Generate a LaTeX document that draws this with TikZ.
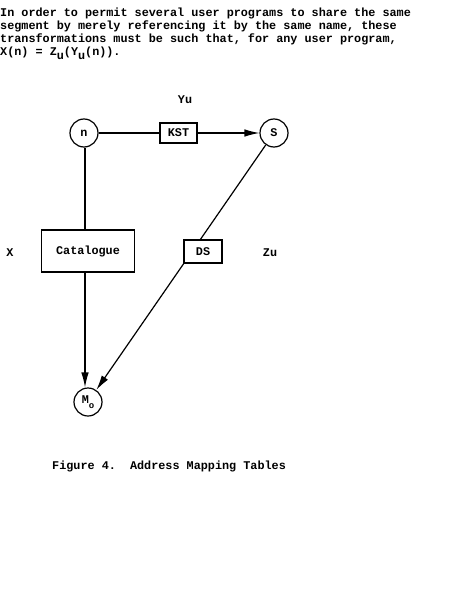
\documentclass[tikz,border=0pt]{standalone}
\usepackage{fontspec}
\setmainfont{Liberation Mono}
\usetikzlibrary{arrows.meta}
\begin{document}
\begin{tikzpicture}[x=1pt,y=-1pt,
  txt/.style={inner sep=0pt,font=\fontsize{11.8pt}{13pt}\selectfont\bfseries},
  para/.style={txt,anchor=base west},
  circ/.style={draw,circle,line width=1.2pt,minimum size=28pt,inner sep=0pt,txt},
  box/.style={draw,rectangle,line width=1.2pt,fill=white,inner sep=0pt,txt},
  conn/.style={line width=1.2pt},
  arr/.style={conn,-{Latex[length=15pt,width=7.5pt]}}]
\useasboundingbox (0,0) rectangle (461,594);
% paragraph
\node[para] (l1) at (0,17) {In order to permit several user programs to share the same};
\node[para] (l2) at (0,30) {segment by merely referencing it by the same name, these};
\node[para] (l3) at (0,43) {transformations must be such that, for any user program,};
\node[para] (l4) at (0,56) {X(n) = Z\raisebox{-3.5pt}{u}(Y\raisebox{-3.5pt}{u}(n)).};
% diagram
\node[circ] (n) at (84,133) {n};
\node[circ] (S) at (274,133) {S};
\node[circ] (M) at (88,402) {\raisebox{2pt}{M}\raisebox{-3pt}{\fontsize{9pt}{9pt}\selectfont o}};
\node[box,minimum width=37pt,minimum height=20pt] (kst) at (178.5,133) {KST};
\node[box,minimum width=93pt,minimum height=42pt] (cat) at (88,251) {Catalogue};
\node[txt] (yu) at (185,100) {Yu};
\node[txt] (x) at (10,253) {X};
\node[txt] (zu) at (270,253) {Zu};
% connectors
\draw[conn] (n) -- (kst);
\draw[arr] (kst) -- (S);
\draw[conn] (n.south -| 85,0) -- (cat.north -| 85,0);
\draw[arr] (cat.south -| 85,0) -- (M.north -| 85,0);
\draw[arr] (S) -- (M);
\node[box,minimum width=38pt,minimum height=23pt] (ds) at (203,251.5) {DS};
% caption
\node[para] (cap) at (52,469) {Figure 4.\ \ Address Mapping Tables};
\end{tikzpicture}
\end{document}
